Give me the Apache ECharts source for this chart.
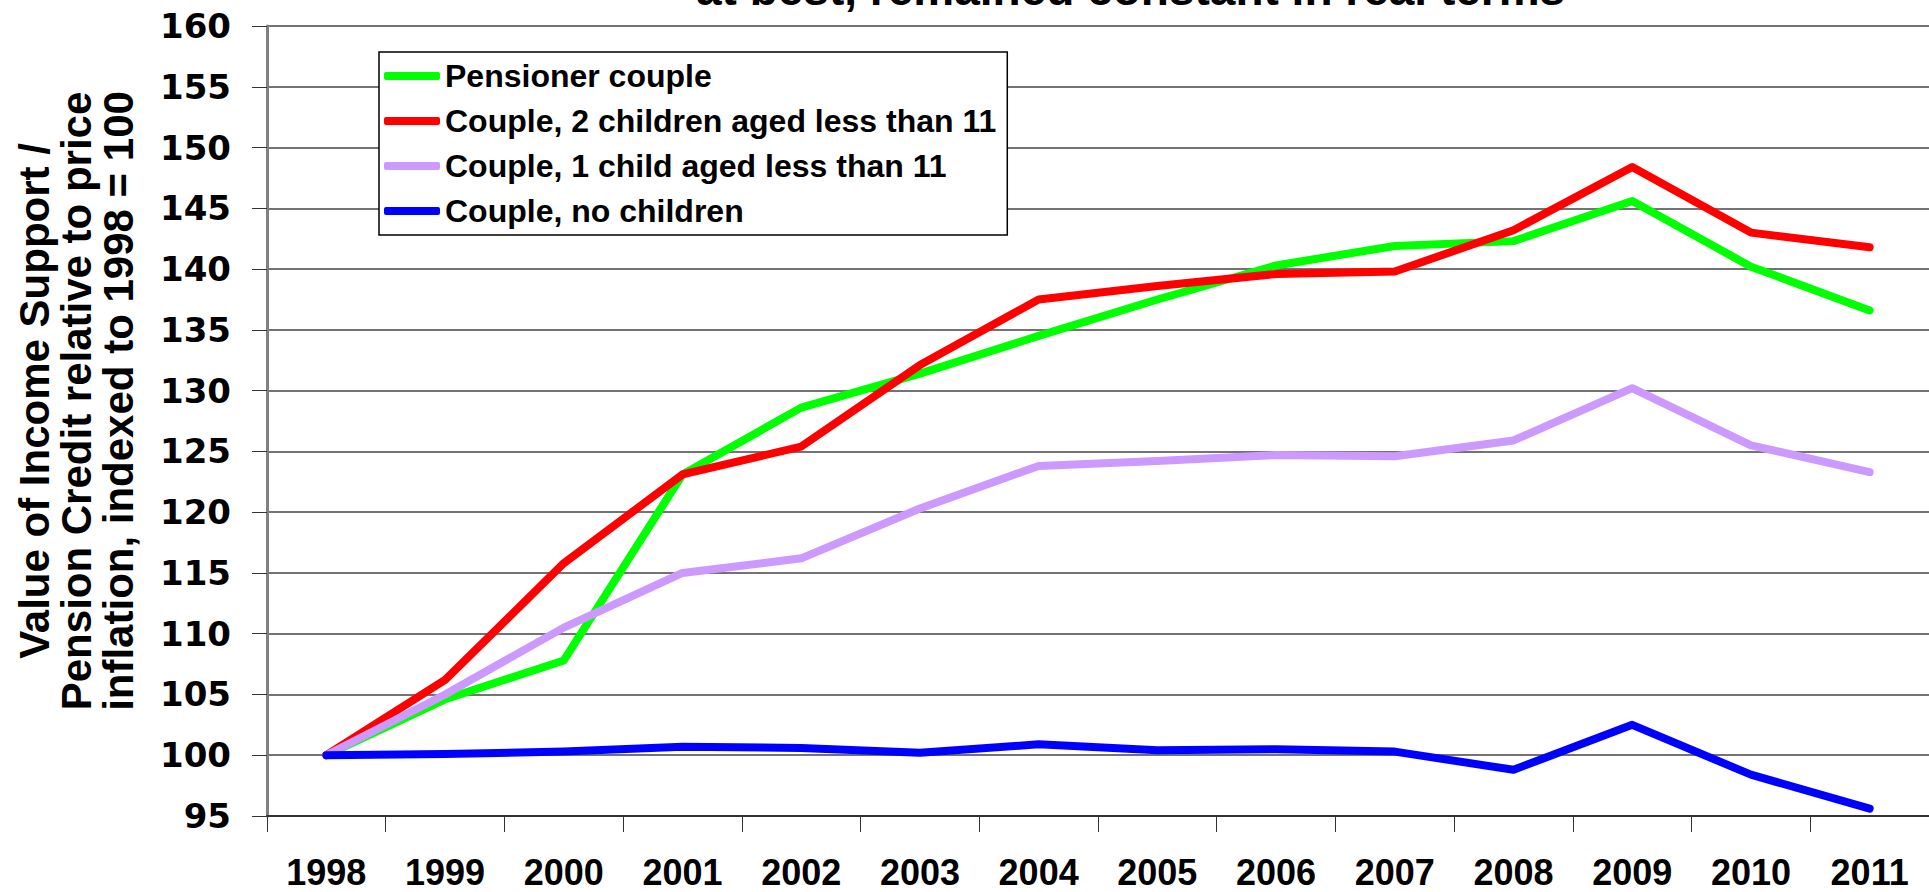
<!DOCTYPE html>
<html>
<head>
    <meta charset="utf-8">
    <title>Income Support / Pension Credit relative to prices</title>
    <script src="https://cdn.jsdelivr.net/npm/echarts@6/dist/echarts.min.js"></script>
    <style>
        html, body { margin: 0; padding: 0; background: #fff; }
    </style>
</head>
<body>
    <div id="main" style="width: 1929px;height:892px;"></div>
    <script type="text/javascript">
        // data
        var years = ['1998', '1999', '2000', '2001', '2002', '2003', '2004',
                     '2005', '2006', '2007', '2008', '2009', '2010', '2011'];
        var pensionerCouple = [100, 104.6, 107.8, 123.1, 128.6, 131.4, 134.5, 137.5, 140.3, 141.9, 142.3, 145.6, 140.2, 136.6];
        var twoChildren     = [100, 106.2, 115.8, 123.1, 125.4, 132.1, 137.5, 138.6, 139.6, 139.8, 143.2, 148.4, 143.0, 141.8];
        var oneChild        = [100, 105.0, 110.5, 115.0, 116.2, 120.3, 123.8, 124.2, 124.7, 124.6, 125.9, 130.2, 125.5, 123.3];
        var noChildren      = [100, 100.1, 100.3, 100.7, 100.6, 100.2, 100.9, 100.4, 100.5, 100.3, 98.8, 102.5, 98.4, 95.6];
        var seriesNames = ['Pensioner couple', 'Couple, 2 children aged less than 11',
                           'Couple, 1 child aged less than 11', 'Couple, no children'];
        var seriesColors = ['#00ff00', '#ff0000', '#cc99ff', '#0000ff'];

        var myChart = echarts.init(document.getElementById('main'), null, {renderer: 'svg'});

        var boldSans = "'Liberation Sans', Arial, sans-serif";

        function lineSeries(i, values) {
            return {
                name: seriesNames[i],
                type: 'line',
                data: values,
                symbol: 'none',
                smooth: false,
                color: seriesColors[i],
                lineStyle: {width: 8, color: seriesColors[i], cap: 'round', join: 'round'}
            };
        }

        var option = {
            backgroundColor: '#fff',
            animation: false,
            // only the last line of the title shows, its top is cut off as in the original
            title: {
                text: 'at best, remained constant in real terms',
                left: 696,
                top: -34,
                padding: 0,
                textStyle: {
                    fontFamily: boldSans,
                    fontWeight: 'bold',
                    fontSize: 46,
                    lineHeight: 46,
                    color: '#000'
                }
            },
            legend: {
                data: seriesNames,
                orient: 'vertical',
                left: 379,
                top: 52,
                padding: [4, 11, 4, 5],
                itemGap: 5,
                itemWidth: 56,
                itemHeight: 8,
                icon: 'roundRect',
                backgroundColor: '#fff',
                borderColor: '#000',
                borderWidth: 1.5,
                borderRadius: 0,
                textStyle: {
                    fontFamily: boldSans,
                    fontWeight: 'bold',
                    fontSize: 32,
                    lineHeight: 40,
                    color: '#000'
                }
            },
            grid: {
                left: 267,
                right: 0,
                top: 26,
                bottom: 76,
                containLabel: false
            },
            xAxis: {
                type: 'category',
                data: years,
                boundaryGap: true,
                axisLine: {lineStyle: {color: '#333', width: 2}},
                axisTick: {show: true, length: 16, lineStyle: {color: '#333', width: 1}},
                axisLabel: {
                    interval: 0,
                    margin: 38,
                    fontFamily: boldSans,
                    fontWeight: 'bold',
                    fontSize: 36,
                    lineHeight: 36,
                    color: '#000'
                },
                splitLine: {show: false}
            },
            yAxis: {
                type: 'value',
                min: 95,
                max: 160,
                interval: 5,
                name: 'Value of Income Support /\nPension Credit relative to price\ninflation, indexed to 1998 = 100',
                nameLocation: 'middle',
                nameRotate: 90,
                nameGap: 128,
                nameTextStyle: {
                    fontFamily: boldSans,
                    fontWeight: 'bold',
                    fontSize: 42,
                    lineHeight: 42,
                    color: '#000',
                    padding: [0, 0, 0, 40]
                },
                axisLine: {show: true, lineStyle: {color: '#808080', width: 3}},
                axisTick: {show: true, length: 15, lineStyle: {color: '#333', width: 1}},
                axisLabel: {
                    margin: 36,
                    fontFamily: "'DejaVu Sans', sans-serif",
                    fontWeight: 'bold',
                    fontSize: 34,
                    color: '#000'
                },
                splitLine: {show: true, lineStyle: {color: '#444', width: 1.5}}
            },
            series: [
                lineSeries(0, pensionerCouple),
                lineSeries(1, twoChildren),
                lineSeries(2, oneChild),
                lineSeries(3, noChildren)
            ]
        };

        myChart.setOption(option);
    </script>
</body>
</html>
